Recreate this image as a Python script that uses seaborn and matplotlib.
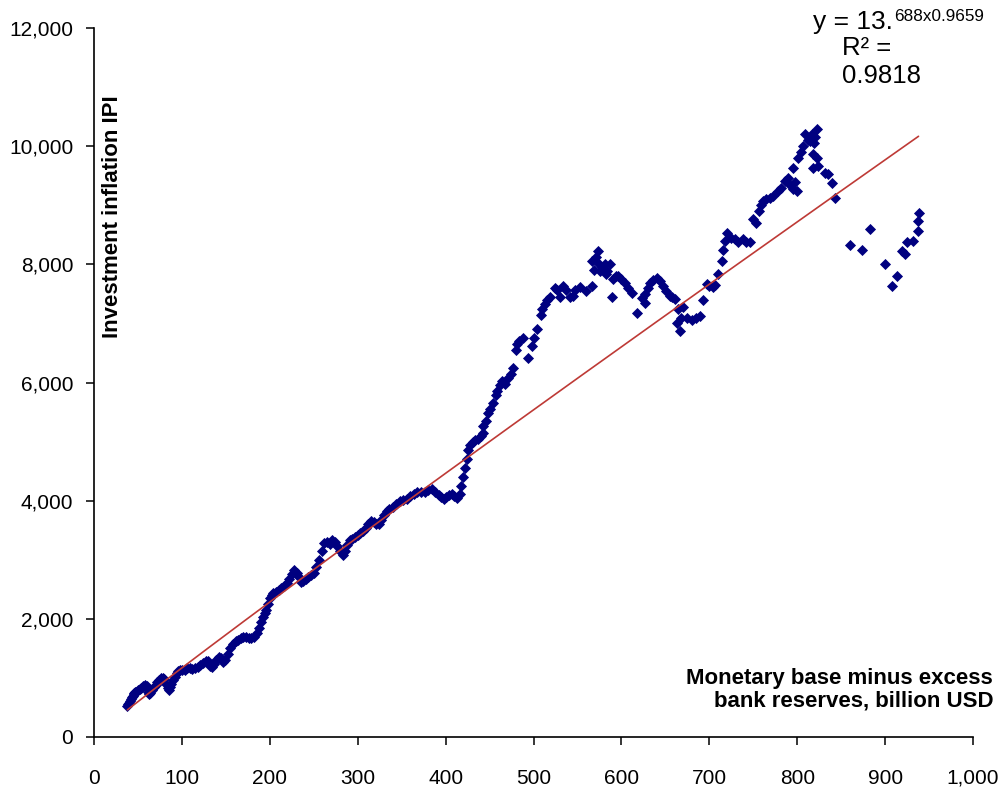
import numpy as np
import pandas as pd
import matplotlib
matplotlib.use("Agg")
import matplotlib.pyplot as plt
import seaborn as sns
from matplotlib.ticker import FuncFormatter

# Monetary base minus excess reserves (billion USD) vs. investment inflation index
base_lo = [38, 39, 40, 41, 42, 43, 44, 45, 46, 47, 48, 50, 52, 54, 56, 58, 60, 61, 62, 63,
           64, 66, 68, 70, 72, 74, 76, 78, 80, 82, 84, 85, 86, 88, 90, 92, 94, 96, 98, 100,
           103, 106, 109, 112, 115, 118, 121, 124, 127, 130, 132, 134, 136, 139, 142, 145,
           147, 149, 152, 155, 158, 161, 164, 167, 170, 173, 176, 179, 182, 185, 188, 190,
           192, 194, 196, 198, 200, 202, 204, 207, 210, 213, 216, 219, 222, 225, 228, 231,
           233, 235, 238, 241, 244, 247, 250, 253, 256, 259, 262, 265, 268, 271, 274, 277,
           280, 283, 285, 288, 291, 294, 297, 300, 303, 306, 309, 312, 315, 318, 321, 324,
           327, 330, 333, 336, 340, 344, 348, 352, 356, 360, 364, 368, 372, 376, 380, 384,
           388, 392, 395, 398, 401, 404, 407, 410, 413, 416, 418, 420, 422, 424, 426, 428,
           431, 434, 437, 440]
ipi_lo = [520, 560, 580, 610, 640, 680, 700, 720, 740, 760, 770, 790, 810, 830, 860, 880, 870,
          820, 760, 720, 740, 790, 850, 880, 930, 970, 1000, 1000, 990, 900, 830, 800, 840, 900,
          960, 1020, 1080, 1120, 1140, 1130, 1130, 1160, 1170, 1150, 1160, 1190, 1220, 1250,
          1290, 1280, 1210, 1180, 1230, 1300, 1350, 1330, 1270, 1300, 1400, 1500, 1580, 1620,
          1650, 1680, 1700, 1690, 1680, 1670, 1700, 1760, 1850, 1950, 2030, 2100, 2150, 2250,
          2350, 2400, 2430, 2450, 2480, 2520, 2560, 2610, 2680, 2760, 2820, 2780, 2700, 2620,
          2640, 2680, 2700, 2740, 2780, 2880, 3000, 3150, 3280, 3300, 3260, 3330, 3300, 3240,
          3150, 3080, 3150, 3250, 3330, 3350, 3380, 3420, 3450, 3480, 3530, 3600, 3660, 3640,
          3610, 3600, 3680, 3750, 3820, 3860, 3900, 3950, 4000, 4010, 4030, 4080, 4110, 4140,
          4140, 4150, 4180, 4190, 4150, 4100, 4060, 4030, 4060, 4100, 4120, 4080, 4040, 4110,
          4250, 4400, 4550, 4700, 4850, 4950, 5000, 5020, 5050, 5100]

base_hi = [443, 443, 446, 448, 451, 454, 457, 459, 462, 464, 468, 471, 474, 477, 480, 481,
           484, 488, 494, 498, 501, 504, 508, 510, 513, 515, 519, 524, 527, 530, 534, 537,
           541, 545, 547, 553, 560, 566, 567, 569, 571, 573, 575, 576, 578, 581, 583, 584,
           587, 589, 591, 594, 596, 600, 604, 608, 612, 618, 624, 627, 627, 630, 632, 636,
           640, 644, 647, 651, 655, 658, 661, 663, 664, 667, 668, 670, 675, 680, 685, 689,
           693, 697, 700, 704, 707, 710, 714, 716, 718, 720, 725, 729, 733, 738, 742, 746,
           750, 753, 756, 759, 761, 765, 769, 773, 778, 782, 786, 790, 792, 795, 798, 800,
           795, 801, 804, 807, 809, 812, 815, 817, 819, 820, 822, 818, 818, 822, 824, 832,
           835, 840, 843, 860, 874, 883, 900, 908, 913, 919, 923, 925, 932, 937, 937, 938]
ipi_hi = [5140, 5270, 5350, 5480, 5550, 5650, 5780, 5860, 5950, 6030, 5980, 6080, 6150, 6250,
          6550, 6660, 6700, 6760, 6410, 6620, 6760, 6910, 7150, 7250, 7330, 7390, 7450, 7600,
          7560, 7440, 7640, 7560, 7440, 7470, 7560, 7620, 7550, 7640, 8060, 7900, 8130, 8230,
          8000, 7890, 7950, 8010, 7840, 7880, 8010, 7440, 7750, 7800, 7810, 7750, 7690, 7600,
          7520, 7170, 7430, 7500, 7340, 7600, 7690, 7740, 7770, 7720, 7640, 7550, 7470, 7440,
          7420, 7010, 7250, 6880, 7100, 7270, 7100, 7050, 7100, 7130, 7390, 7670, 7640, 7610,
          7650, 7840, 8060, 8250, 8400, 8530, 8450, 8430, 8380, 8430, 8380, 8370, 8770, 8700,
          8910, 9000, 9070, 9100, 9130, 9150, 9240, 9300, 9410, 9460, 9350, 9280, 9400, 9240,
          9630, 9800, 9900, 10000, 10200, 10100, 10090, 10210, 10050, 10150, 10290, 9870, 9630,
          9800, 9670, 9550, 9530, 9380, 9130, 8320, 8250, 8600, 8010, 7640, 7810, 8230, 8180,
          8370, 8400, 8570, 8740, 8870]

# Power-law trend fitted to the series: y = A * x^B
TREND_A = 13.688
TREND_B = 0.9659
R_SQUARED = 0.9818

x_ticks = [0, 100, 200, 300, 400, 500, 600, 700, 800, 900, 1000]
y_ticks = [0, 2000, 4000, 6000, 8000, 10000, 12000]

df = pd.DataFrame({"base": base_lo + base_hi, "ipi": ipi_lo + ipi_hi})

sns.set_style("ticks")
plt.rcParams["font.family"] = ["Liberation Sans", "DejaVu Sans"]
plt.rcParams["text.color"] = "black"
plt.rcParams["axes.labelcolor"] = "black"
plt.rcParams["xtick.color"] = "black"
plt.rcParams["ytick.color"] = "black"

W, H = 1002, 794
fig = plt.figure(figsize=(W / 100, H / 100), dpi=100)
ax = fig.add_axes([94 / W, 1 - 737 / H, 879 / W, 709 / H])

sns.scatterplot(data=df, x="base", y="ipi", ax=ax, marker="D", s=32,
                color="#000080", linewidth=0, zorder=2, legend=False)

trend_x = np.linspace(df["base"].min(), df["base"].max(), 400)
trend = pd.DataFrame({"base": trend_x, "ipi": TREND_A * trend_x ** TREND_B})
sns.lineplot(data=trend, x="base", y="ipi", ax=ax, color="#BE3A36",
             linewidth=1.2, zorder=3)

ax.set_xlim(x_ticks[0], x_ticks[-1])
ax.set_ylim(y_ticks[0], y_ticks[-1])
ax.set_xticks(x_ticks)
ax.set_yticks(y_ticks)
fmt = FuncFormatter(lambda v, _: f"{int(v):,}")
ax.xaxis.set_major_formatter(fmt)
ax.yaxis.set_major_formatter(fmt)

for side in ("top", "right"):
    ax.spines[side].set_visible(False)
for side in ("left", "bottom"):
    ax.spines[side].set_linewidth(1.2)
    ax.spines[side].set_color("black")

ax.tick_params(axis="both", direction="out", length=6, width=1.1,
               color="black", labelsize=15, labelcolor="black")
ax.tick_params(axis="x", pad=17)
ax.tick_params(axis="y", pad=9)

ax.set_xlabel("Monetary base minus excess\nbank reserves, billion USD",
              fontsize=16, fontweight="bold", ha="right", va="center",
              multialignment="right", linespacing=1.1)
ax.xaxis.set_label_coords((993 - 94) / 879, (737 - 690) / 709)

ax.set_ylabel("Investment inflation IPI", fontsize=16, fontweight="bold",
              va="center", ha="center")
ax.yaxis.set_label_coords((112 - 94) / 879, (737 - 217) / 709)

# Trend equation, written the way the spreadsheet label shows it
a_int, a_frac = f"{TREND_A:.3f}".split(".")
main = fig.text(813 / W, 1 - 29 / H, f"y = {a_int}.", fontsize=19,
                ha="left", va="baseline")
fig.canvas.draw()
bb = main.get_window_extent()
fig.text((bb.x1 + 1) / W, 1 - 21 / H, f"{a_frac}x{TREND_B}", fontsize=12.3,
         ha="left", va="baseline")
fig.text(842 / W, 1 - 55 / H, "R² =", fontsize=18.5, ha="left", va="baseline")
fig.text(842 / W, 1 - 83 / H, f"{R_SQUARED}", fontsize=18.5, ha="left",
         va="baseline")

fig.savefig("out.png", dpi=100)
